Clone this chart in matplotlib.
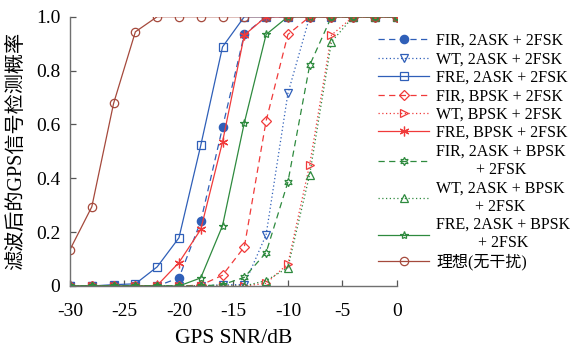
import matplotlib
matplotlib.use('Agg')
import matplotlib.pyplot as plt

plt.rcParams['font.family'] = ['Liberation Serif', 'Noto Sans CJK SC']
plt.rcParams['axes.unicode_minus'] = False

# GPS SNR (dB)
snr = [-30, -28, -26, -24, -22, -20, -18, -16, -14, -12, -10, -8, -6, -4, -2, 0]

# detection probability for each method / interference
fir_ask_fsk = [0, 0, 0, 0, 0, 0.03, 0.24, 0.589, 0.935, 1, 1, 1, 1, 1, 1, 1]
wt_ask_fsk = [0, 0, 0, 0, 0, 0, 0, 0.005, 0.005, 0.19, 0.715, 1, 1, 1, 1, 1]
fre_ask_fsk = [0, 0, 0.005, 0.008, 0.071, 0.179, 0.522, 0.888, 1, 1, 1, 1, 1, 1, 1, 1]
fir_bpsk_fsk = [0, 0, 0, 0, 0, 0, 0.003, 0.04, 0.145, 0.613, 0.934, 1, 1, 1, 1, 1]
wt_bpsk_fsk = [0, 0, 0, 0, 0, 0, 0, 0, 0, 0.01, 0.082, 0.451, 0.932, 1, 1, 1]
fre_bpsk_fsk = [0, 0, 0, 0, 0.002, 0.087, 0.21, 0.535, 0.932, 1, 1, 1, 1, 1, 1, 1]
fir_all = [0, 0, 0, 0, 0, 0, 0, 0.005, 0.032, 0.124, 0.386, 0.82, 1, 1, 1, 1]
wt_all = [0, 0, 0, 0, 0, 0, 0, 0, 0, 0.02, 0.068, 0.414, 0.907, 1, 1, 1]
fre_all = [0, 0, 0, 0, 0, 0, 0.03, 0.224, 0.606, 0.934, 1, 1, 1, 1, 1, 1]
ideal = [0.135, 0.294, 0.678, 0.944, 1, 1, 1, 1, 1, 1, 1, 1, 1, 1, 1, 1]

labels = ['FIR, 2ASK + 2FSK', 'WT, 2ASK + 2FSK', 'FRE, 2ASK + 2FSK',
          'FIR, BPSK + 2FSK', 'WT, BPSK + 2FSK', 'FRE, BPSK + 2FSK',
          'FIR, 2ASK + BPSK\n+ 2FSK', 'WT, 2ASK + BPSK\n+ 2FSK',
          'FRE, 2ASK + BPSK\n+ 2FSK', '理想(无干扰)']

blue = '#2f5fb8'
red = '#f03a3a'
green = '#2e8a3e'
brown = '#a5493c'

dash = (0, (5, 3.5))
dot = (0, (1, 2))

styles = [
    dict(color=blue, ls=dash, marker='o', mfc=blue),
    dict(color=blue, ls=dot, marker='v', mfc='none'),
    dict(color=blue, ls='-', marker='s', mfc='none'),
    dict(color=red, ls=dash, marker='D', mfc='none', ms=5),
    dict(color=red, ls=dot, marker='>', mfc='none'),
    dict(color=red, ls='-', marker=(6, 2, 0), mfc='none', ms=7),
    dict(color=green, ls=dash, marker=(6, 1, 0), mfc='none'),
    dict(color=green, ls=dot, marker='^', mfc='none'),
    dict(color=green, ls='-', marker='*', mfc='none'),
    dict(color=brown, ls='-', marker='o', mfc='none'),
]
series = [fir_ask_fsk, wt_ask_fsk, fre_ask_fsk, fir_bpsk_fsk, wt_bpsk_fsk,
          fre_bpsk_fsk, fir_all, wt_all, fre_all, ideal]

fig = plt.figure(figsize=(5.71, 3.47), dpi=100)
ax = fig.add_axes([0.1226, 0.1758, 0.5724, 0.776])

for vals, lab, st in zip(series, labels, styles):
    kw = dict(lw=0.9, ms=6, mew=0.9)
    kw.update(st)
    ax.plot(snr, vals, label=lab, **kw)

ax.set_xlim(-30, 0)
ax.set_ylim(0, 1)
ax.set_xticks([-30, -25, -20, -15, -10, -5, 0])
ax.set_yticks([0, 0.2, 0.4, 0.6, 0.8, 1.0])
ax.set_yticklabels(['0', '0.2', '0.4', '0.6', '0.8', '1.0'])
ax.tick_params(direction='in', labelsize=14, color='#555555', length=4, width=0.9)
ax.tick_params(axis='x', pad=12)
ax.tick_params(axis='y', pad=7)
for s in ['top', 'right']:
    ax.spines[s].set_visible(False)
for s in ['left', 'bottom']:
    ax.spines[s].set_color('#707070')
    ax.spines[s].set_linewidth(1.0)

ax.set_xlabel('GPS SNR/dB', fontsize=15.5, labelpad=7)
ax.set_ylabel('滤波后的GPS信号检测概率', fontsize=14.5, labelpad=7)

leg = ax.legend(loc='upper left', bbox_to_anchor=(378 / 571, 1 - 33 / 347),
                bbox_transform=fig.transFigure, frameon=False,
                fontsize=11.5, handlelength=3.2, handletextpad=0.45,
                labelspacing=0.15, borderaxespad=0, borderpad=0)
for t in leg.get_texts():
    t.set_multialignment('center')

fig.savefig('out.png', dpi=100)
